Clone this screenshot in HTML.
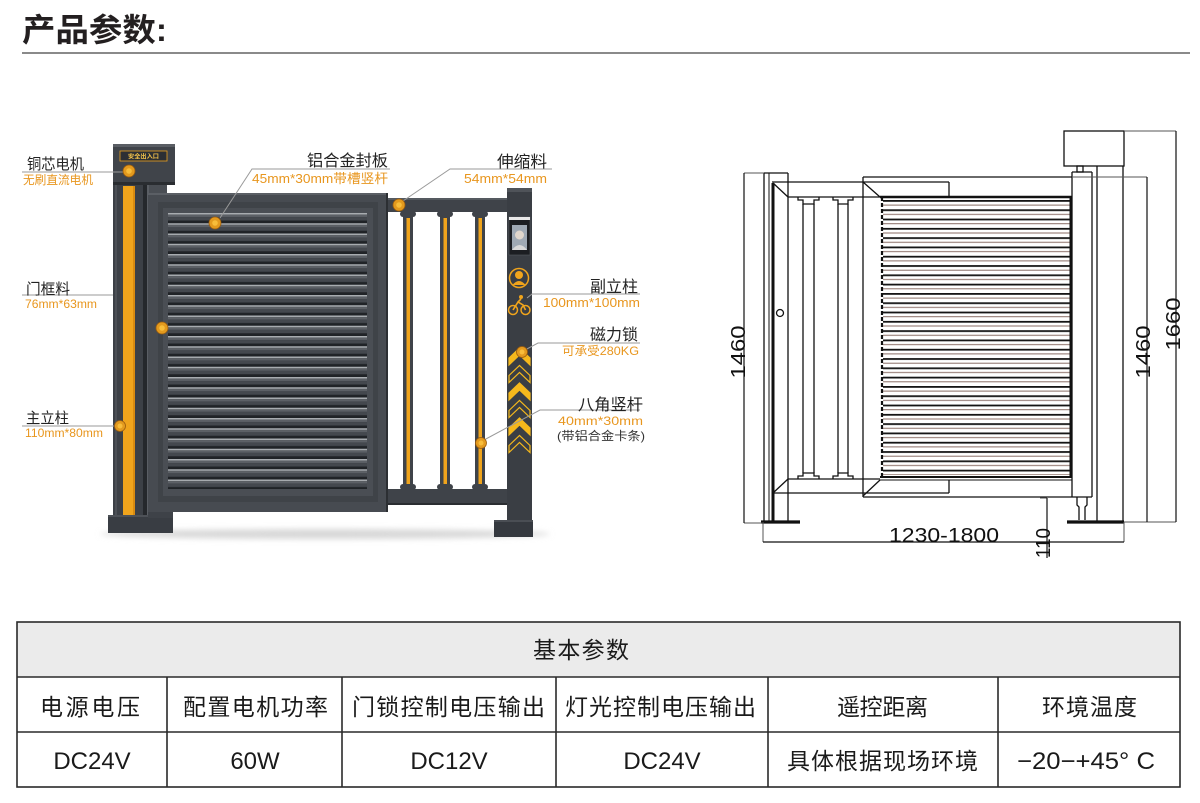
<!DOCTYPE html>
<html><head><meta charset="utf-8">
<style>
html,body{margin:0;padding:0;background:#fff;}
svg{display:block;}
text{font-family:"Liberation Sans","Noto Sans CJK SC",sans-serif;}
</style></head><body>
<svg width="1200" height="803" viewBox="0 0 1200 803" xmlns="http://www.w3.org/2000/svg">
<defs>
 <pattern id="slat" patternUnits="userSpaceOnUse" x="168" y="213" width="200" height="10.25">
  <rect width="200" height="10.25" fill="#202327"/>
  <rect y="0" width="200" height="1.6" fill="#a8acb0"/>
  <rect y="1.6" width="200" height="2.5" fill="#5c6066"/>
  <rect y="4.1" width="200" height="3.4" fill="#44484e"/>
 </pattern>
 <pattern id="lv" patternUnits="userSpaceOnUse" x="880" y="200" width="200" height="9.3">
  <rect y="0" width="200" height="1.8" fill="#151515"/>
  <rect y="4.6" width="200" height="1" fill="#8a6e66"/>
 </pattern>
 <filter id="blur" x="-20%" y="-200%" width="140%" height="500%"><feGaussianBlur stdDeviation="3"/></filter>
</defs>

<!-- Header -->
<text x="22" y="41" font-size="32" font-weight="bold" fill="#231f20" textLength="145" lengthAdjust="spacingAndGlyphs">产品参数:</text>
<rect x="22" y="52" width="1168" height="2" fill="#8a8a8a"/>

<!-- ============ LEFT PHOTO GATE ============ -->
<ellipse cx="325" cy="534" rx="225" ry="5" fill="#d8d8d8" filter="url(#blur)"/>

<!-- leader line behind post -->
<g stroke="#9a9a9a" stroke-width="1" fill="none">
 <line x1="22" y1="295" x2="113" y2="295"/>
 <line x1="143" y1="315" x2="158" y2="326"/>
</g>

<!-- main post -->
<rect x="113" y="183" width="31" height="334" fill="#3c4046"/>
<rect x="115" y="183" width="2" height="334" fill="#4c5056"/>
<rect x="123" y="186" width="12" height="330" fill="#f0a41c"/>
<rect x="133" y="186" width="2" height="330" fill="#d98b10"/>
<rect x="143" y="183" width="4" height="334" fill="#25282c"/>
<!-- motor box -->
<rect x="113" y="144" width="62" height="41" fill="#40444a"/>
<rect x="113" y="144" width="62" height="3" fill="#5a5e64"/>
<rect x="113" y="182" width="62" height="3" fill="#2a2d31"/>
<rect x="120" y="151" width="47" height="10" fill="#2c2f34" stroke="#e9a11f" stroke-width="0.8"/>
<text x="143.5" y="158.6" font-size="6.2" fill="#f3c24a" text-anchor="middle" font-weight="bold">安全出入口</text>
<!-- main base -->
<rect x="108" y="515" width="65" height="18" fill="#393d43"/>
<rect x="108" y="515" width="65" height="2" fill="#4d5157"/>

<!-- gate frame vertical -->
<rect x="147" y="185" width="20" height="330" fill="#4a4e54"/>
<rect x="147" y="185" width="2" height="330" fill="#5a5e64"/>
<rect x="148" y="509" width="25" height="9" fill="#3e4248"/>
<!-- panel -->
<rect x="148" y="193" width="240" height="319" fill="#474b51"/>
<rect x="158" y="202" width="220" height="300" fill="#3f4348"/>
<rect x="163" y="208" width="210" height="288" fill="#4a4e54"/>
<rect x="168" y="213" width="199" height="276" fill="url(#slat)"/>
<rect x="148" y="193" width="240" height="2" fill="#5b5f65"/>
<rect x="386" y="193" width="2" height="319" fill="#2c2f33"/>

<!-- right section -->
<rect x="388" y="198" width="119" height="14" fill="#3f4349"/>
<rect x="388" y="198" width="119" height="2" fill="#555a60"/>
<rect x="388" y="489" width="119" height="16" fill="#3f4349"/>
<rect x="388" y="503" width="119" height="2" fill="#2a2d31"/>
<g fill="#3f4349">
 <rect x="403" y="212" width="10" height="277"/>
 <rect x="440" y="212" width="10" height="277"/>
 <rect x="475" y="212" width="10" height="277"/>
 <rect x="400" y="211" width="16" height="6" rx="3"/>
 <rect x="437" y="211" width="16" height="6" rx="3"/>
 <rect x="472" y="211" width="16" height="6" rx="3"/>
 <rect x="400" y="484" width="16" height="6" rx="3"/>
 <rect x="437" y="484" width="16" height="6" rx="3"/>
 <rect x="472" y="484" width="16" height="6" rx="3"/>
</g>
<g fill="#f0a41c">
 <rect x="406.5" y="218" width="3.5" height="266"/>
 <rect x="443.5" y="218" width="3.5" height="266"/>
 <rect x="478.5" y="218" width="3.5" height="266"/>
</g>

<!-- sub post -->
<rect x="507" y="188" width="25" height="334" fill="#3a3e44"/>
<rect x="507" y="188" width="25" height="4" fill="#4f5359"/>
<rect x="494" y="520" width="39" height="17" fill="#35393f"/>
<rect x="494" y="520" width="39" height="2" fill="#4a4e54"/>
<!-- screen -->
<rect x="509" y="217" width="21" height="38" fill="#1c1e22" stroke="#55595f" stroke-width="0.6"/>
<rect x="509" y="217" width="21" height="3" fill="#e8e8e8"/>
<rect x="512" y="225" width="15" height="25" fill="#9fa9b4"/>
<circle cx="519.5" cy="235" r="4.5" fill="#e0d6cc"/>
<path d="M512 250 Q519.5 240 527 250 Z" fill="#d8d8d8"/>
<!-- face icon -->
<circle cx="519" cy="278" r="9.5" fill="none" stroke="#f0a41c" stroke-width="1.5"/>
<circle cx="519" cy="275" r="4" fill="#f0a41c"/>
<path d="M512.5 285 Q519 277 525.5 285 Z" fill="#f0a41c"/>
<!-- bike icon -->
<circle cx="513" cy="310" r="4.5" fill="none" stroke="#f0a41c" stroke-width="1.5"/>
<circle cx="525.5" cy="310" r="4.5" fill="none" stroke="#f0a41c" stroke-width="1.5"/>
<circle cx="521" cy="297" r="2" fill="#f0a41c"/>
<path d="M513 310 L518 302 L523 305 L525.5 310 M518 302 L521 299" fill="none" stroke="#f0a41c" stroke-width="1.6"/>
<!-- chevrons -->
<g stroke="#f5b81c" stroke-width="1.2" stroke-linejoin="miter">
 <polygon points="509,358 519.5,348 530,358 530,365 519.5,355 509,365" fill="#f5b81c"/>
 <polygon points="509,375.5 519.5,365.5 530,375.5 530,382.5 519.5,372.5 509,382.5" fill="#3a3e44"/>
 <polygon points="509,393 519.5,383 530,393 530,400 519.5,390 509,400" fill="#f5b81c"/>
 <polygon points="509,410.5 519.5,400.5 530,410.5 530,417.5 519.5,407.5 509,417.5" fill="#3a3e44"/>
 <polygon points="509,428 519.5,418 530,428 530,435 519.5,425 509,435" fill="#f5b81c"/>
 <polygon points="509,445.5 519.5,435.5 530,445.5 530,452.5 519.5,442.5 509,452.5" fill="#3a3e44"/>
</g>

<!-- leader lines (on top) -->
<g stroke="#9a9a9a" stroke-width="1" fill="none">
 <line x1="22" y1="172" x2="124" y2="172"/>
 <line x1="22" y1="426" x2="116" y2="426"/>
 <polyline points="390,169 252,169 220,218"/>
 <polyline points="552,169 450,169 403,201"/>
 <polyline points="640,294 532,294 527,298"/>
 <polyline points="640,343 538,343 525,350"/>
 <polyline points="640,410 540,410 484,440"/>
</g>

<!-- markers -->
<g>
 <g transform="translate(129,171)"><circle r="6" fill="#e39a1e" stroke="#9b5c0e" stroke-width="0.8"/><circle r="2.8" fill="#f8bd3a"/></g>
 <g transform="translate(215,223)"><circle r="6" fill="#e39a1e" stroke="#9b5c0e" stroke-width="0.8"/><circle r="2.8" fill="#f8bd3a"/></g>
 <g transform="translate(162,328)"><circle r="6" fill="#e39a1e" stroke="#9b5c0e" stroke-width="0.8"/><circle r="2.8" fill="#f8bd3a"/></g>
 <g transform="translate(120,426)"><circle r="5.5" fill="#e39a1e" stroke="#9b5c0e" stroke-width="0.8"/><circle r="2.5" fill="#f8bd3a"/></g>
 <g transform="translate(399,205)"><circle r="6" fill="#e39a1e" stroke="#9b5c0e" stroke-width="0.8"/><circle r="2.8" fill="#f8bd3a"/></g>
 <g transform="translate(522,352)"><circle r="5.5" fill="#e39a1e" stroke="#9b5c0e" stroke-width="0.8"/><circle r="2.5" fill="#f8bd3a"/></g>
 <g transform="translate(481,443)"><circle r="5.5" fill="#e39a1e" stroke="#9b5c0e" stroke-width="0.8"/><circle r="2.5" fill="#f8bd3a"/></g>
</g>

<!-- labels -->
<g fill="#222">
 <text x="27" y="169" font-size="15" textLength="57" lengthAdjust="spacingAndGlyphs">铜芯电机</text>
 <text x="26" y="294" font-size="15" textLength="44" lengthAdjust="spacingAndGlyphs">门框料</text>
 <text x="26" y="423" font-size="15" textLength="43" lengthAdjust="spacingAndGlyphs">主立柱</text>
 <text x="307" y="166" font-size="16" textLength="81" lengthAdjust="spacingAndGlyphs">铝合金封板</text>
 <text x="497" y="167" font-size="16" textLength="50" lengthAdjust="spacingAndGlyphs">伸缩料</text>
 <text x="590" y="292" font-size="16" textLength="48" lengthAdjust="spacingAndGlyphs">副立柱</text>
 <text x="590" y="340" font-size="16" textLength="48" lengthAdjust="spacingAndGlyphs">磁力锁</text>
 <text x="578" y="410" font-size="16" textLength="65" lengthAdjust="spacingAndGlyphs">八角竖杆</text>
 <text x="557" y="440" font-size="12" fill="#333" textLength="88" lengthAdjust="spacingAndGlyphs">(带铝合金卡条)</text>
</g>
<g fill="#e8961e">
 <text x="23" y="184" font-size="12" textLength="70" lengthAdjust="spacingAndGlyphs">无刷直流电机</text>
 <text x="25" y="308" font-size="12" textLength="72" lengthAdjust="spacingAndGlyphs">76mm*63mm</text>
 <text x="25" y="437" font-size="12" textLength="78" lengthAdjust="spacingAndGlyphs">110mm*80mm</text>
 <text x="252" y="183" font-size="13" textLength="136" lengthAdjust="spacingAndGlyphs">45mm*30mm带槽竖杆</text>
 <text x="464" y="183" font-size="13" textLength="83" lengthAdjust="spacingAndGlyphs">54mm*54mm</text>
 <text x="543" y="307" font-size="13" textLength="97" lengthAdjust="spacingAndGlyphs">100mm*100mm</text>
 <text x="562" y="355" font-size="12" textLength="77" lengthAdjust="spacingAndGlyphs">可承受280KG</text>
 <text x="558" y="425" font-size="12" textLength="85" lengthAdjust="spacingAndGlyphs">40mm*30mm</text>
</g>

<!-- ============ RIGHT TECHNICAL DRAWING ============ -->
<!-- louvers -->
<rect x="883" y="199" width="188" height="276" fill="url(#lv)"/>
<g stroke="#111" fill="none" stroke-width="1.3">
 <!-- left post -->
 <line x1="764" y1="173" x2="764" y2="522"/>
 <line x1="769" y1="173" x2="769" y2="522" stroke-width="1"/>
 <line x1="773" y1="183" x2="773" y2="522" stroke-width="3"/>
 <line x1="788" y1="173" x2="788" y2="522"/>
 <line x1="764" y1="173" x2="788" y2="173"/>
 <line x1="761" y1="522" x2="800" y2="522" stroke-width="3.2"/>
 <circle cx="780" cy="313" r="3.5"/>
 <!-- top telescopic -->
 <line x1="772" y1="182" x2="863" y2="182"/>
 <line x1="788" y1="197" x2="880" y2="197"/>
 <line x1="773" y1="183" x2="788" y2="197"/>
 <!-- bottom telescopic -->
 <line x1="788" y1="479" x2="880" y2="479"/>
 <line x1="772" y1="493" x2="863" y2="493"/>
 <line x1="773" y1="493" x2="788" y2="479"/>
 <!-- bars -->
 <line x1="803" y1="204" x2="803" y2="473"/>
 <line x1="814" y1="204" x2="814" y2="473"/>
 <line x1="838" y1="204" x2="838" y2="473"/>
 <line x1="848" y1="204" x2="848" y2="473"/>
 <path d="M798 197 L798 200 L803 200 L803 204 L814 204 L814 200 L819 200 L819 197"/>
 <path d="M833 197 L833 200 L838 200 L838 204 L848 204 L848 200 L853 200 L853 197"/>
 <path d="M798 479 L798 476 L803 476 L803 473 L814 473 L814 476 L819 476 L819 479"/>
 <path d="M833 479 L833 476 L838 476 L838 473 L848 473 L848 476 L853 476 L853 479"/>
 <!-- main panel frame -->
 <line x1="863" y1="177" x2="863" y2="497"/>
 <line x1="863" y1="177" x2="1072" y2="177"/>
 <line x1="863" y1="182" x2="949" y2="182"/>
 <line x1="949" y1="182" x2="949" y2="196"/>
 <line x1="863" y1="182" x2="880" y2="197"/>
 <line x1="880" y1="197" x2="1072" y2="197" stroke-width="2.5"/>
 <line x1="880" y1="477" x2="1072" y2="477" stroke-width="2"/>
 <line x1="880" y1="480" x2="1072" y2="480" stroke-width="1"/>
 <line x1="863" y1="493" x2="949" y2="493"/>
 <line x1="949" y1="480" x2="949" y2="493"/>
 <line x1="863" y1="496" x2="880" y2="480"/>
 <line x1="863" y1="497" x2="1092" y2="497"/>
 <line x1="882" y1="197" x2="882" y2="477" stroke-width="2.2" stroke-dasharray="4 2"/>
 <line x1="1071" y1="197" x2="1071" y2="477" stroke-width="3"/>
 <!-- right post -->
 <line x1="1072" y1="172" x2="1072" y2="497"/>
 <line x1="1092" y1="172" x2="1092" y2="497"/>
 <line x1="1072" y1="172" x2="1092" y2="172"/>
 <line x1="1097" y1="166" x2="1097" y2="522"/>
 <line x1="1123" y1="166" x2="1123" y2="522"/>
 <rect x="1064" y="131" width="60" height="35"/>
 <rect x="1077" y="166" width="6" height="6"/>
 <path d="M1077 497 L1077 505 L1079 507 L1079 520 M1087 497 L1087 505 L1085 507 L1085 520"/>
 <line x1="1067" y1="522" x2="1124" y2="522" stroke-width="3.2"/>
</g>
<!-- dimensions -->
<g stroke="#555" stroke-width="1" fill="none">
 <line x1="744" y1="173" x2="764" y2="173"/>
 <line x1="744" y1="523" x2="762" y2="523"/>
 <line x1="1072" y1="177" x2="1147" y2="177"/>
 <line x1="1124" y1="131" x2="1176" y2="131"/>
 <line x1="1124" y1="522" x2="1176" y2="522"/>
 <line x1="763" y1="522" x2="763" y2="542"/>
 <line x1="1124" y1="522" x2="1124" y2="542"/>
 <line x1="1040" y1="498" x2="1047" y2="498"/>
</g>
<g stroke="#111" stroke-width="1.2" fill="none">
 <line x1="744" y1="173" x2="744" y2="523"/>
 <line x1="1147" y1="177" x2="1147" y2="522"/>
 <line x1="1176" y1="131" x2="1176" y2="522"/>
 <line x1="763" y1="542" x2="1124" y2="542"/>
 <line x1="1047" y1="498" x2="1047" y2="558"/>
</g>
<g fill="#111" font-size="20">
 <text transform="translate(745,352) rotate(-90)" text-anchor="middle" textLength="53" lengthAdjust="spacingAndGlyphs">1460</text>
 <text transform="translate(1150,352) rotate(-90)" text-anchor="middle" textLength="53" lengthAdjust="spacingAndGlyphs">1460</text>
 <text transform="translate(1180,324) rotate(-90)" text-anchor="middle" textLength="53" lengthAdjust="spacingAndGlyphs">1660</text>
 <text transform="translate(1050,543) rotate(-90)" text-anchor="middle" textLength="30" lengthAdjust="spacingAndGlyphs">110</text>
 <text x="889" y="542" textLength="110" lengthAdjust="spacingAndGlyphs">1230-1800</text>
</g>

<!-- ============ TABLE ============ -->
<rect x="17" y="622" width="1163" height="55" fill="#ebebeb"/>
<g stroke="#2a2a2a" stroke-width="1.6" fill="none">
 <rect x="17" y="622" width="1163" height="165"/>
 <line x1="17" y1="677" x2="1180" y2="677"/>
 <line x1="17" y1="732" x2="1180" y2="732"/>
 <line x1="167" y1="677" x2="167" y2="787"/>
 <line x1="342" y1="677" x2="342" y2="787"/>
 <line x1="556" y1="677" x2="556" y2="787"/>
 <line x1="768" y1="677" x2="768" y2="787"/>
 <line x1="998" y1="677" x2="998" y2="787"/>
</g>
<g fill="#1a1a1a" font-size="23">
 <text x="533" y="658" textLength="96">基本参数</text>
 <text x="40" y="715" textLength="100">电源电压</text>
 <text x="183" y="715" textLength="145">配置电机功率</text>
 <text x="352" y="715" textLength="193">门锁控制电压输出</text>
 <text x="565" y="715" textLength="191">灯光控制电压输出</text>
 <text x="837" y="715" textLength="91">遥控距离</text>
 <text x="1042" y="715" textLength="95">环境温度</text>
 <text x="787" y="769" textLength="191">具体根据现场环境</text>
</g>
<g fill="#1a1a1a" font-size="24" text-anchor="middle">
 <text x="92" y="769">DC24V</text>
 <text x="255" y="769">60W</text>
 <text x="449" y="769">DC12V</text>
 <text x="662" y="769">DC24V</text>
</g>
<text x="1017" y="769" font-size="24" fill="#1a1a1a" textLength="138" lengthAdjust="spacingAndGlyphs">−20−+45° C</text>
</svg>
</body></html>
